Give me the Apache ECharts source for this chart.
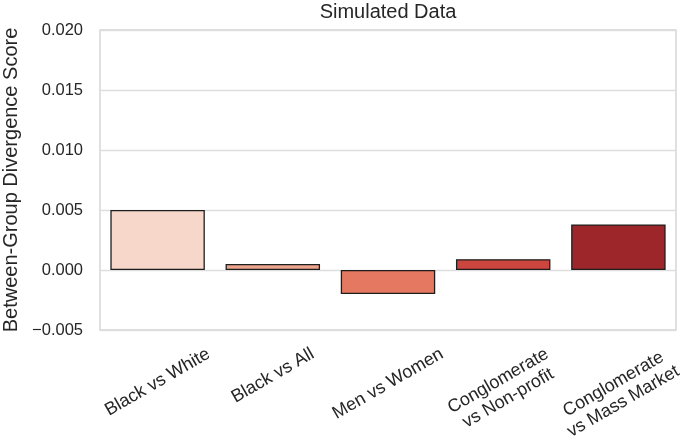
<!DOCTYPE html>
<html><head><meta charset="utf-8">
<script src="https://cdn.jsdelivr.net/npm/echarts@6/dist/echarts.min.js"></script>
<style>html,body{margin:0;padding:0;background:#fff}#c{width:685px;height:440px}</style>
</head><body><div id="c"></div>
<script>
// ---- data ----
const chartTitle = 'Simulated Data';
const yAxisName = 'Between-Group Divergence Score';
const categories = ['Black vs White', 'Black vs All', 'Men vs Women', 'Conglomerate\nvs Non-profit', 'Conglomerate\nvs Mass Market'];
const values = [0.005, 0.0005, -0.002, 0.0009, 0.0038];
const barColors = ['#f6d7c9', '#eca48c', '#e57860', '#cc453f', '#9d262a'];
const yMin = -0.005, yMax = 0.020, yStep = 0.005;

// ---- layout / style ----
const FONT = '"Liberation Sans", Arial, Helvetica, sans-serif';
const TXT = '#262626';
const YTICK_FS = 16.5, XTICK_FS = 18, LH = 20, ROT = 30;
const GRID = {left: 100, right: 9, top: 30, bottom: 110};
const labelTop = 344;   // top of rotated label boxes (matplotlib va='top', ha='center')
const rad = ROT * Math.PI / 180;

const chart = echarts.init(document.getElementById('c'), null, {renderer: 'canvas'});
chart.setOption({
  animation: false,
  backgroundColor: '#ffffff',
  textStyle: {fontFamily: FONT},
  title: {
    text: chartTitle, left: GRID.left + (685 - GRID.left - GRID.right) / 2, top: 2, padding: 0,
    textAlign: 'center',
    textStyle: {fontFamily: FONT, fontSize: 20, fontWeight: 'normal', color: TXT}
  },
  grid: {left: GRID.left, right: GRID.right, top: GRID.top, bottom: GRID.bottom,
         show: true, borderColor: '#cfcfcf', borderWidth: 1.3,
         containLabel: false, outerBoundsMode: 'none'},
  xAxis: {
    type: 'category', data: categories,
    axisLine: {show: false}, axisTick: {show: false}, splitLine: {show: false},
    axisLabel: {show: false}
  },
  yAxis: {
    type: 'value', min: yMin, max: yMax, interval: yStep,
    name: yAxisName, nameLocation: 'middle', nameRotate: 90, nameGap: 77,
    nameTextStyle: {fontSize: 20, color: TXT, fontFamily: FONT},
    axisLine: {show: false}, axisTick: {show: false},
    splitLine: {show: true, lineStyle: {color: '#dedede', width: 1.3}},
    axisLabel: {
      margin: 17, fontSize: YTICK_FS, color: TXT, fontFamily: FONT,
      formatter: v => v.toFixed(3).replace('-', '\u2212')
    }
  },
  series: [{
    type: 'bar',
    barCategoryGap: '18%',
    data: values.map((v, i) => ({value: v, itemStyle: {color: barColors[i]}})),
    itemStyle: {borderColor: '#1e1e1e', borderWidth: 1.3}
  }]
});

// Category tick labels: rotated 30°, box centred on the tick, box tops aligned (matplotlib style)
const ctx = document.createElement('canvas').getContext('2d');
ctx.font = XTICK_FS + 'px ' + FONT;
const labelEls = categories.map((c, i) => {
  const lines = c.split('\n');
  const w = Math.max(...lines.map(l => ctx.measureText(l).width));
  const h = lines.length * LH;
  const H = w * Math.sin(rad) + h * Math.cos(rad);
  const px = chart.convertToPixel({xAxisIndex: 0}, i);
  return {
    type: 'text', x: px, y: labelTop + H / 2, rotation: rad, silent: true,
    style: {text: c, fontSize: XTICK_FS, fontFamily: FONT, fill: TXT,
            align: 'center', verticalAlign: 'middle', lineHeight: LH}
  };
});
chart.setOption({graphic: labelEls});
</script>
</body></html>
